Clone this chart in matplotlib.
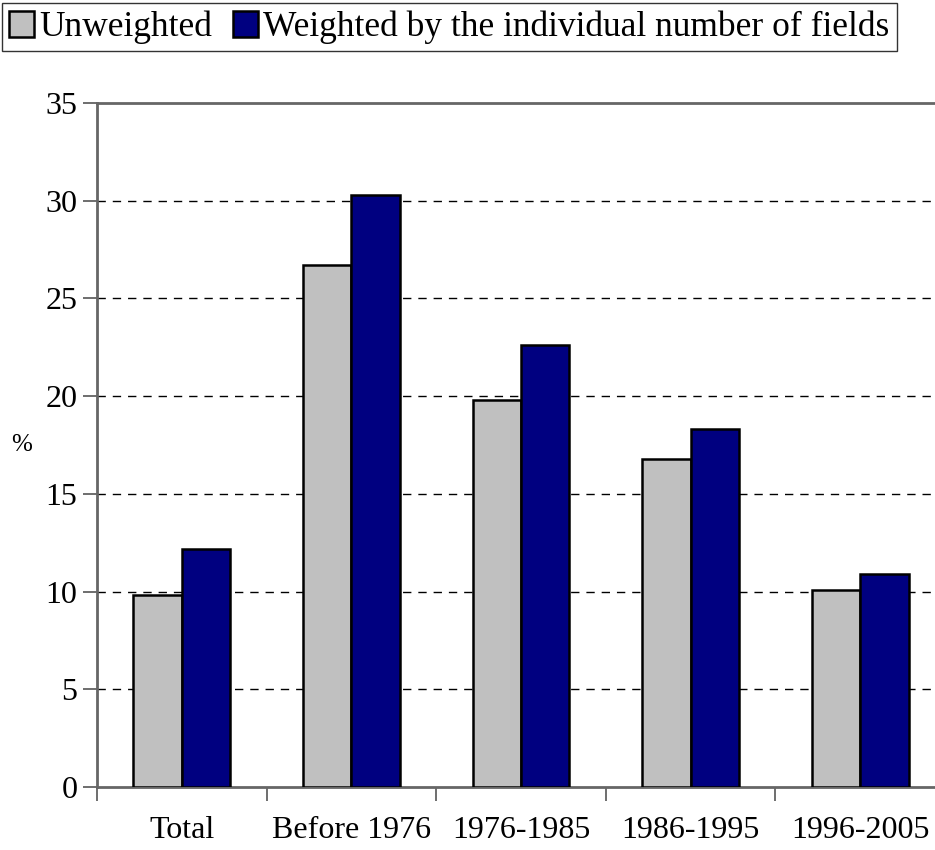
import numpy as np
import matplotlib
matplotlib.use("Agg")
import matplotlib.pyplot as plt

categories = ["Total", "Before 1976", "1976-1985", "1986-1995", "1996-2005"]
unweighted = [9.8, 26.7, 19.8, 16.8, 10.1]
weighted = [12.2, 30.3, 22.6, 18.3, 10.9]
series_labels = ["Unweighted", "Weighted by the individual number of fields"]
yticks = [0, 5, 10, 15, 20, 25, 30, 35]

plt.rcParams["font.family"] = ["Liberation Serif", "DejaVu Serif"]

fig = plt.figure(figsize=(9.35, 8.5), dpi=100)
ax = fig.add_axes([97 / 935, 63 / 850, 848 / 935, 684 / 850])

x = np.arange(len(categories))
w = 0.285
b1 = ax.bar(x - w / 2, unweighted, w, color="#C0C0C0", edgecolor="black", linewidth=1.8, zorder=3)
b2 = ax.bar(x + w / 2, weighted, w, color="#000080", edgecolor="black", linewidth=1.8, zorder=3)

ax.set_xlim(-0.5, len(categories) - 0.5)
ax.set_ylim(0, 35)
ax.set_yticks(yticks)
ax.set_yticklabels([str(t) for t in yticks], fontsize=23)
for t in yticks[1:-1]:
    ax.axhline(t, color="black", linestyle=(0, (6, 5)), linewidth=1.0, zorder=1)

ax.set_xticks(np.arange(len(categories) + 1) - 0.5)
ax.set_xticklabels([])
ax.set_xticks(x, minor=True)
ax.set_xticklabels(categories, minor=True, fontsize=23)
ax.tick_params(axis="x", which="major", direction="out", length=10, width=1.2, color="#555555")
ax.tick_params(axis="x", which="minor", length=0, pad=21)
ax.tick_params(axis="y", direction="out", length=10, width=1.2, color="#555555", pad=4)

for s in ["left", "bottom", "top"]:
    ax.spines[s].set_color("#666666")
    ax.spines[s].set_linewidth(2)
ax.spines["right"].set_visible(False)

fig.text(22 / 935, 1 - 445 / 850, "%", fontsize=18, ha="center", va="center")

leg = fig.legend([b1, b2], series_labels, loc="upper left", bbox_to_anchor=(0.002, 0.996),
                 ncol=2, fontsize=25.5, frameon=True, fancybox=False, edgecolor="black",
                 handlelength=0.7, handleheight=0.75, handletextpad=0.15, columnspacing=0.6,
                 borderpad=0.2, borderaxespad=0.0)
leg.get_frame().set_linewidth(1.0)

fig.savefig("out.png", dpi=100)
